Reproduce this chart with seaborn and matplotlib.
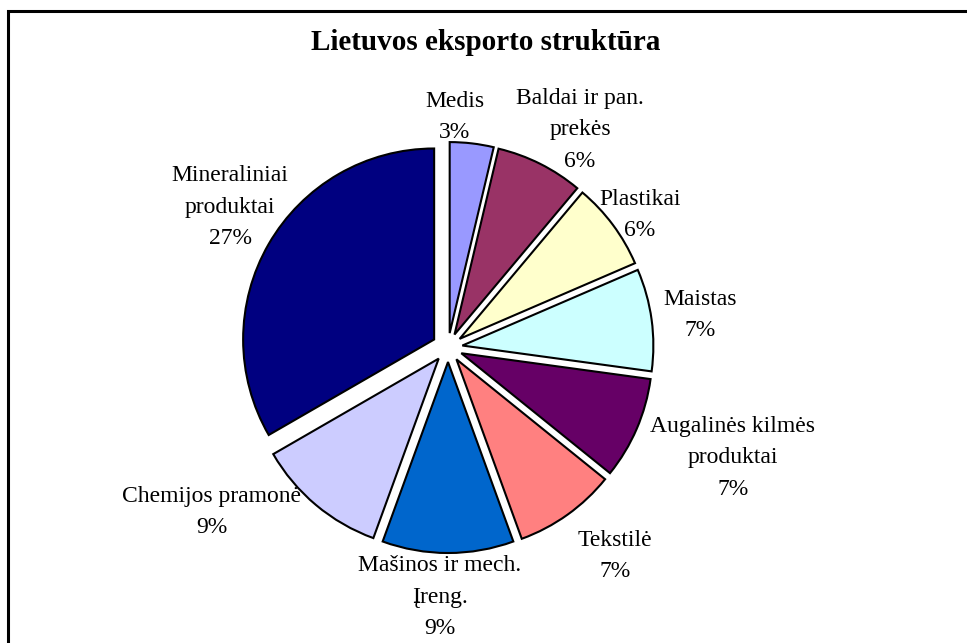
import matplotlib
matplotlib.use("Agg")
import matplotlib.pyplot as plt
from matplotlib.patches import Rectangle
import seaborn as sns

# Export structure shares (percent)
categories = [
    "Medis",
    "Baldai ir pan.\nprekės",
    "Plastikai",
    "Maistas",
    "Augalinės kilmės\nproduktai",
    "Tekstilė",
    "Mašinos ir mech.\nĮreng.",
    "Chemijos pramonė",
    "Mineraliniai\nproduktai",
]
shares = [3, 6, 6, 7, 7, 7, 9, 9, 27]
colors = ["#9999FF", "#993366", "#FFFFCC", "#CCFFFF", "#660066",
          "#FF8080", "#0066CC", "#CCCCFF", "#000080"]
title = "Lietuvos eksporto struktūra"

sns.set_theme(style="white")
plt.rcParams["font.family"] = ["Liberation Serif", "DejaVu Serif"]

W, H = 967, 643
fig = plt.figure(figsize=(W / 100, H / 100), dpi=100)
fig.patch.set_facecolor("white")

# axes in pixel units (y measured from the bottom)
ax = fig.add_axes([0, 0, 1, 1])

cx, cy, R = 448, H - 347.5, 191
# explode offsets are in the same pixel units as the radius
explode = [14.5] * (len(shares) - 1) + [16]

wedges, _ = ax.pie(
    shares,
    colors=colors,
    explode=explode,
    startangle=90,
    counterclock=False,
    center=(cx, cy),
    radius=R,
    wedgeprops=dict(edgecolor="black", linewidth=1.5),
    frame=True,
)
ax.set_xlim(0, W)
ax.set_ylim(0, H)
ax.set_aspect("equal")
ax.axis("off")

# label anchors (pixel coordinates, y from top)
label_pos = [(455, 117), (580, 130), (640, 215), (700, 315), (733, 458),
             (615, 556), (440, 597), (212, 512), (230, 207)]
for name, val, (lx, ly) in zip(categories, shares, label_pos):
    ax.text(lx, H - ly, f"{name}\n{val}%", ha="center", va="center",
            fontsize=17, linespacing=1.68, color="black")

fig.text(486 / W, 1 - 43 / H, title, ha="center", va="center",
         fontsize=21, fontweight="bold", color="black")

# chart area border (left and top edges visible)
fig.patches.append(Rectangle((8 / W, -0.1), 1.2, (H - 11) / H + 0.1,
                             transform=fig.transFigure, fill=False,
                             edgecolor="black", linewidth=2.2))

fig.savefig("out.png", dpi=100)
